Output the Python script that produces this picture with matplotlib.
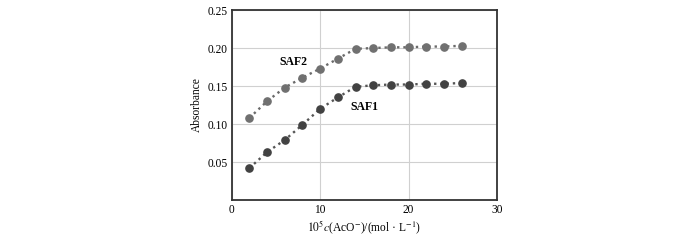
import matplotlib
matplotlib.use("Agg")
import matplotlib.pyplot as plt

x = [2, 4, 6, 8, 10, 12, 14, 16, 18, 20, 22, 24, 26]
saf2 = [0.108, 0.130, 0.148, 0.161, 0.173, 0.186, 0.199, 0.200, 0.201, 0.201, 0.202, 0.202, 0.203]
saf1 = [0.042, 0.063, 0.079, 0.099, 0.120, 0.135, 0.149, 0.151, 0.152, 0.152, 0.153, 0.153, 0.154]
xticks = [0, 10, 20, 30]
yticks = [0.05, 0.10, 0.15, 0.20, 0.25]

plt.rcParams['font.family'] = ['Liberation Serif', 'DejaVu Serif']
plt.rcParams['mathtext.fontset'] = 'stix'

fig = plt.figure(figsize=(7, 2.4), dpi=100)
ax = fig.add_axes([0.331, 0.1667, 0.379, 0.7913])

ax.plot(x, saf2, ':', color='#6a6a6a', lw=1.7, zorder=2)
ax.plot(x, saf2, 'o', color='#707070', ms=5.2, zorder=3)
ax.plot(x, saf1, ':', color='#555555', lw=1.7, zorder=2)
ax.plot(x, saf1, 'o', color='#424242', ms=5.2, zorder=3)

ax.text(7.0, 0.181, 'SAF2', fontsize=8.5, fontweight='bold', ha='center', va='center')
ax.text(15.0, 0.123, 'SAF1', fontsize=8.5, fontweight='bold', ha='center', va='center')

ax.set_xlim(0, 30)
ax.set_ylim(0, 0.25)
ax.set_xticks(xticks)
ax.set_yticks(yticks)
ax.set_xticklabels([str(t) for t in xticks])
ax.set_yticklabels(['%.2f' % t for t in yticks])
ax.tick_params(length=0, labelsize=8.3, pad=3)
ax.grid(True, color='#d0d0d0', lw=0.8)
ax.set_axisbelow(True)
for s in ax.spines.values():
    s.set_linewidth(1.3)
    s.set_color('#333333')

ax.set_xlabel(r'$10^5\mathit{c}$(AcO$^{-}$)/(mol · L$^{-1}$)', fontsize=8.3, labelpad=2)
ax.set_ylabel('Absorbance', fontsize=8.3, labelpad=3)

fig.savefig('out.png', dpi=100)
